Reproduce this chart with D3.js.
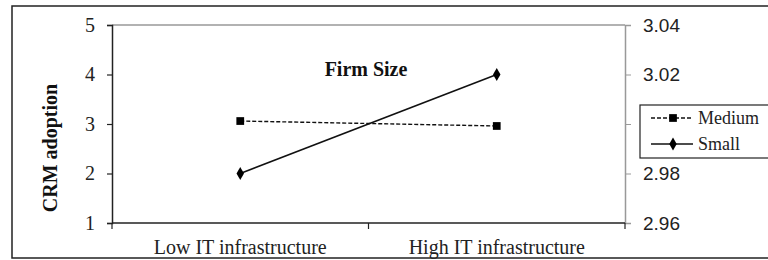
<!DOCTYPE html>
<html><head><meta charset="utf-8">
<script src="https://cdn.jsdelivr.net/npm/d3@7"></script>
<style>body{margin:0;background:#fff}svg{display:block}</style>
</head><body>
<svg id="c" width="768" height="260"></svg>
<script>
const categories = ["Low IT infrastructure", "High IT infrastructure"];
const seriesNames = ["Medium", "Small"];
const mediumValues = [3.06, 2.96];
const smallValues = [2.0, 4.0];
const leftTicks = [1, 2, 3, 4, 5];
const rightTicks = [2.96, 2.98, 3.00, 3.02, 3.04];
const chartTitle = "Firm Size";
const yTitle = "CRM adoption";

const svg = d3.select("#c");
const L = 112, R = 625, T = 25, B = 223;
const serif = "'Liberation Serif','Times New Roman',serif";
const sans = "'Liberation Sans',Arial,sans-serif";

// outer frame
svg.append("rect").attr("x", 12).attr("y", 6).attr("width", 800).attr("height", 252)
  .attr("fill", "none").attr("stroke", "#222").attr("stroke-width", 1.5);

const x = d3.scaleBand().domain(categories).range([L, R]).padding(0);
const y = d3.scaleLinear().domain([1, 5]).range([B, T]);
const y2 = d3.scaleLinear().domain([2.96, 3.04]).range([B, T]);

// plot area top border (gray)
svg.append("line").attr("x1", L).attr("x2", R).attr("y1", T).attr("y2", T)
  .attr("stroke", "#999").attr("stroke-width", 1.5);

// right axis
const ra = svg.append("g").attr("transform", `translate(${R},0)`)
  .call(d3.axisRight(y2).tickValues(rightTicks).tickFormat(d3.format(".2f")).tickSize(6).tickPadding(12));
ra.select(".domain").attr("stroke", "#999").attr("stroke-width", 1.5);
ra.selectAll(".tick line").attr("stroke", "#999");
ra.selectAll("text").attr("font-family", sans).attr("font-size", 19).attr("fill", "#222");

// left axis
const la = svg.append("g").attr("transform", `translate(${L},0)`)
  .call(d3.axisLeft(y).tickValues(leftTicks).tickFormat(d3.format("d")).tickSize(5).tickPadding(12));
la.select(".domain").attr("stroke", "#222").attr("stroke-width", 1.5);
la.selectAll(".tick line").attr("stroke", "#222").attr("stroke-width", 1.2);
la.selectAll("text").attr("font-family", serif).attr("font-size", 20).attr("fill", "#222");

// bottom axis line and boundary ticks
svg.append("line").attr("x1", L).attr("x2", R).attr("y1", B).attr("y2", B)
  .attr("stroke", "#222").attr("stroke-width", 1.5);
const bounds = categories.map(c => x(c)).concat([x(categories[categories.length - 1]) + x.bandwidth()]);
svg.selectAll(".xt").data(bounds).enter().append("line")
  .attr("x1", d => d).attr("x2", d => d).attr("y1", B).attr("y2", B + 6)
  .attr("stroke", "#222").attr("stroke-width", 1.2);
svg.selectAll(".xl").data(categories).enter().append("text")
  .attr("x", d => x(d) + x.bandwidth() / 2).attr("y", 254)
  .attr("text-anchor", "middle").attr("font-family", serif).attr("font-size", 20).attr("fill", "#222")
  .text(d => d);

// y title
svg.append("text").attr("transform", "translate(57,148) rotate(-90)")
  .attr("text-anchor", "middle").attr("font-family", serif).attr("font-weight", "bold")
  .attr("font-size", 20).attr("fill", "#111").text(yTitle);

// chart title
svg.append("text").attr("x", 366).attr("y", 76).attr("text-anchor", "middle")
  .attr("font-family", serif).attr("font-weight", "bold").attr("font-size", 20).attr("fill", "#111")
  .text(chartTitle);

const cx = d => x(d) + x.bandwidth() / 2;
const line = d3.line().x(d => cx(d.c)).y(d => y(d.v));
const med = categories.map((c, i) => ({c, v: mediumValues[i]}));
const sml = categories.map((c, i) => ({c, v: smallValues[i]}));

svg.append("path").datum(med).attr("d", line).attr("fill", "none")
  .attr("stroke", "#111").attr("stroke-width", 1.4).attr("stroke-dasharray", "4,2");
svg.append("path").datum(sml).attr("d", line).attr("fill", "none")
  .attr("stroke", "#111").attr("stroke-width", 1.6);

const sq = d3.symbol().type(d3.symbolSquare).size(60);
const dm = d3.symbol().type(d3.symbolDiamond).size(48);
svg.selectAll(".mm").data(med).enter().append("path")
  .attr("d", sq).attr("transform", d => `translate(${cx(d.c)},${y(d.v)})`).attr("fill", "#000");
svg.selectAll(".sm").data(sml).enter().append("path")
  .attr("d", dm).attr("transform", d => `translate(${cx(d.c)},${y(d.v)})`).attr("fill", "#000");

// legend
const lg = svg.append("g");
lg.append("rect").attr("x", 640).attr("y", 105).attr("width", 200).attr("height", 53)
  .attr("fill", "#fff").attr("stroke", "#222").attr("stroke-width", 1.2);
const legendItems = [
  {name: seriesNames[0], dash: "4,2", sym: sq, yy: 118},
  {name: seriesNames[1], dash: null, sym: dm, yy: 144}
];
legendItems.forEach(it => {
  lg.append("line").attr("x1", 651).attr("x2", 693).attr("y1", it.yy).attr("y2", it.yy)
    .attr("stroke", "#111").attr("stroke-width", 1.4).attr("stroke-dasharray", it.dash);
  lg.append("path").attr("d", it.sym).attr("transform", `translate(673,${it.yy})`).attr("fill", "#000");
  lg.append("text").attr("x", 698).attr("y", it.yy).attr("dy", "0.33em")
    .attr("font-family", serif).attr("font-size", 18).attr("fill", "#222").text(it.name);
});
</script>
</body></html>
